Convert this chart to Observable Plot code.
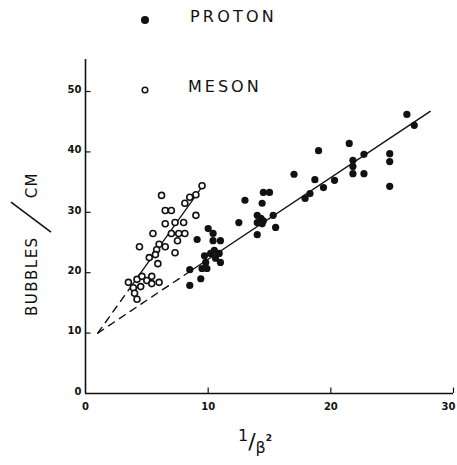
<!DOCTYPE html>
<html><head><meta charset="utf-8">
<script src="https://cdn.jsdelivr.net/npm/d3@7"></script>
<script src="https://cdn.jsdelivr.net/npm/@observablehq/plot@0.6"></script>
<style>
body{margin:0;background:#fff;}
#wrap{position:relative;width:457px;height:465px;overflow:hidden;font-family:"DejaVu Sans",sans-serif;color:#111;}
.abs{position:absolute;white-space:nowrap;}
</style></head><body>
<div id="wrap"></div>
<script>
// ---- data ----
const xTicks = [0, 10, 20, 30];
const yTicks = [0, 10, 20, 30, 40, 50];
const legendLabels = ["PROTON", "MESON"];

const protonX = [26.2,26.8,21.5,22.7,24.8,24.8,21.8,21.8,21.8,22.7,24.8,20.3,19.0,17.0,18.7,19.4,18.3,17.9,15.3,15.5,14.5,15.0,14.4,14.0,14.3,14.5,14.0,14.4,14.0,13.0,12.5,10.0,10.4,10.4,11.0,9.1,10.5,10.2,10.9,9.7,10.6,11.0,9.8,9.5,9.9,8.5,9.4,8.5];
const protonY = [46.2,44.4,41.4,39.6,39.7,38.4,38.6,37.6,36.4,36.4,34.3,35.3,40.2,36.3,35.4,34.1,33.1,32.3,29.5,27.5,33.3,33.3,31.5,29.5,29.0,28.6,28.3,28.1,26.3,32.0,28.3,27.3,26.5,25.3,25.3,25.5,23.7,23.2,23.2,22.8,22.4,21.7,21.7,20.7,20.7,20.5,19.0,17.9];

const mesonX = [9.5,9.0,8.5,8.1,6.2,6.5,7.0,9.0,6.5,7.3,8.0,5.5,7.0,7.6,8.1,7.5,6.0,6.5,5.8,4.4,7.3,5.2,5.7,5.9,3.5,4.2,4.6,5.0,5.4,5.4,6.0,3.9,4.5,4.0,4.2];
const mesonY = [34.4,32.9,32.5,31.5,32.8,30.3,30.3,29.5,28.1,28.3,28.3,26.5,26.5,26.5,26.5,25.3,24.7,24.3,23.8,24.3,23.3,22.5,23.0,21.5,18.4,18.9,19.4,18.7,19.4,18.2,18.4,17.5,17.7,16.6,15.6];

// fitted lines: dashed extrapolation + solid part
const protonDashX = [1, 8.5],  protonDashY = [10, 20.2];
const protonFitX  = [8.5, 28.1], protonFitY = [20.2, 46.7];
const mesonDashX  = [1, 3.5],  mesonDashY  = [10, 17.1];
const mesonFitX   = [3.5, 9.7], mesonFitY  = [17.1, 34.8];

// ---- build tables ----
const protons = protonX.map((x, i) => ({x, y: protonY[i]}));
const mesons = mesonX.map((x, i) => ({x, y: mesonY[i]}));
const seg = (xs, ys) => xs.map((x, i) => ({x, y: ys[i]}));
const lastX = xTicks[xTicks.length - 1];

const plot = Plot.plot({
  width: 457, height: 465,
  marginLeft: 85, marginRight: 4, marginTop: 59, marginBottom: 72,
  x: {domain: [0, 30]},
  y: {domain: [0, 55.3]},
  style: {fontFamily: "DejaVu Sans", fontWeight: "bold", fontSize: "10px", background: "white", color: "#111"},
  marks: [
    Plot.axisX(xTicks.filter(d => d !== lastX), {tickSize: 0, tickPadding: 9, label: null, fontSize: 10}),
    Plot.axisX([lastX], {tickSize: 0, tickPadding: 9, label: null, fontSize: 10, textAnchor: "end", dx: 2}),
    Plot.axisY(yTicks, {tickSize: 0, tickPadding: 4, label: null, fontSize: 10, dy: -2}),
    Plot.ruleX([0], {stroke: "#111", strokeWidth: 1.6}),
    Plot.ruleY([0], {stroke: "#111", strokeWidth: 1.6}),
    Plot.ruleY(yTicks.filter(d => d > 0), {y: d => d, x1: 0, x2: 0.45, stroke: "#111", strokeWidth: 1.2}),
    Plot.ruleX(xTicks.filter(d => d > 0), {x: d => d, y1: 0, y2: 0.9, stroke: "#111", strokeWidth: 1.2}),
    Plot.line(seg(protonDashX, protonDashY), {x: "x", y: "y", stroke: "#111", strokeWidth: 1.4, strokeDasharray: "7,6"}),
    Plot.line(seg(mesonDashX, mesonDashY), {x: "x", y: "y", stroke: "#111", strokeWidth: 1.4, strokeDasharray: "7,6"}),
    Plot.line(seg(protonFitX, protonFitY), {x: "x", y: "y", stroke: "#111", strokeWidth: 1.4}),
    Plot.line(seg(mesonFitX, mesonFitY), {x: "x", y: "y", stroke: "#111", strokeWidth: 1.3}),
    Plot.dot(mesons, {x: "x", y: "y", r: 3, stroke: "#111", strokeWidth: 1.6, fill: "white"}),
    Plot.dot(protons, {x: "x", y: "y", r: 3.6, fill: "#111", stroke: "none"})
  ]
});

const wrap = document.getElementById("wrap");
plot.style.position = "absolute";
plot.style.left = "0px";
plot.style.top = "0px";
wrap.appendChild(plot);

function add(html, css) {
  const d = document.createElement("div");
  d.className = "abs";
  d.innerHTML = html;
  Object.assign(d.style, css);
  wrap.appendChild(d);
  return d;
}

// legend
add('<svg width="12" height="12"><circle cx="6" cy="6" r="4" fill="#111"/></svg>', {left: "139px", top: "11px"});
add(legendLabels[0], {left: "190px", top: "8px", fontSize: "16px", letterSpacing: "3.2px", lineHeight: "18px"});
add('<svg width="12" height="12"><circle cx="6" cy="6" r="2.8" fill="white" stroke="#111" stroke-width="1.5"/></svg>', {left: "139px", top: "81px"});
add(legendLabels[1], {left: "188px", top: "78px", fontSize: "16px", letterSpacing: "3px", lineHeight: "18px"});

// y axis label (rotated)
add('<span>BUBBLES</span><svg width="36" height="44" style="vertical-align:-16px;margin:0 1px"><line x1="3" y1="42" x2="33" y2="2" stroke="#111" stroke-width="1.6"/></svg><span>CM</span>',
  {left: "31px", top: "244px", fontSize: "15px", letterSpacing: "1.5px", lineHeight: "18px",
   transform: "translate(-50%,-50%) rotate(-90deg)", transformOrigin: "center"});

// x axis label
add('<span style="position:relative;top:-8px">1</span><span style="font-size:22px;font-weight:normal">/</span><span style="position:relative;top:4px">β</span><sup style="font-size:9px;font-weight:bold;position:relative;top:-2px">2</sup>',
  {left: "238px", top: "428px", fontSize: "16px", lineHeight: "24px"});
</script>
</body></html>
